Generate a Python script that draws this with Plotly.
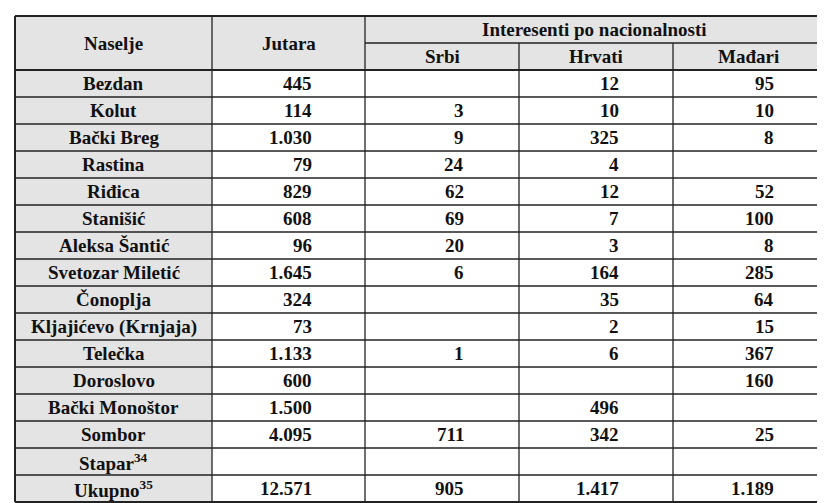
import plotly.graph_objects as go

naselja = ["Bezdan", "Kolut", "Bački Breg", "Rastina", "Riđica", "Stanišić", "Aleksa Šantić",
           "Svetozar Miletić", "Čonoplja", "Kljajićevo (Krnjaja)", "Telečka", "Doroslovo",
           "Bački Monoštor", "Sombor", "Stapar<sup>34</sup>", "Ukupno<sup>35</sup>"]
jutara = ["445", "114", "1.030", "79", "829", "608", "96", "1.645", "324", "73", "1.133", "600",
          "1.500", "4.095", "", "12.571"]
srbi = ["", "3", "9", "24", "62", "69", "20", "6", "", "", "1", "", "", "711", "", "905"]
hrvati = ["12", "10", "325", "4", "12", "7", "3", "164", "35", "2", "6", "", "496", "342", "", "1.417"]
madjari = ["95", "10", "8", "", "52", "100", "8", "285", "64", "15", "367", "160", "", "25", "", "1.189"]

header_top = "Interesenti po nacionalnosti"
headers = ["Naselje", "Jutara", "Srbi", "Hrvati", "Mađari"]

X = [7, 204, 357, 511, 665, 815]
Y0, YH1, YH = 8, 35, 62
RH = 27.0
GRAY = "#e4e4e4"
LINE = "#222"
FONT = dict(family="Liberation Serif", size=19, color="#111")

shapes, ann = [], []
n = len(naselja)
ybot = YH + n * RH
shapes.append(dict(type="rect", x0=X[0], x1=X[5], y0=Y0, y1=YH, fillcolor=GRAY, line_width=0, layer="below"))
shapes.append(dict(type="rect", x0=X[0], x1=X[1], y0=YH, y1=ybot, fillcolor=GRAY, line_width=0, layer="below"))
def ln(x0, y0, x1, y1, w=1.3):
    shapes.append(dict(type="line", x0=x0, y0=y0, x1=x1, y1=y1, line=dict(color=LINE, width=w)))
ln(X[0], Y0, X[5], Y0, 2); ln(X[0], ybot, X[5], ybot, 2)
ln(X[0], Y0, X[0], ybot, 2); ln(X[5], Y0, X[5], ybot, 2)
ln(X[2], YH1, X[5], YH1)
for i in range(n):
    ln(X[0], YH + i * RH, X[5], YH + i * RH, 2 if i == 0 else 1.3)
ln(X[1], Y0, X[1], ybot); ln(X[2], Y0, X[2], ybot)
ln(X[3], YH1, X[3], ybot); ln(X[4], YH1, X[4], ybot)

def txt(x, y, t, anchor="center"):
    ann.append(dict(x=x, y=y, text="<b>" + t + "</b>", showarrow=False, xanchor=anchor, yanchor="middle",
                    font=FONT, xref="x", yref="y"))

txt((X[0] + X[1]) / 2, (Y0 + YH) / 2, headers[0])
txt((X[1] + X[2]) / 2, (Y0 + YH) / 2, headers[1])
txt((X[2] + X[5]) / 2, (Y0 + YH1) / 2, header_top)
for k in range(3):
    txt((X[2 + k] + X[3 + k]) / 2, (YH1 + YH) / 2, headers[2 + k])

right = [306, 458, 613, 768]
for i in range(n):
    yc = YH + (i + 0.5) * RH
    txt((X[0] + X[1]) / 2, yc, naselja[i])
    for c, col in enumerate([jutara, srbi, hrvati, madjari]):
        if col[i]:
            txt(right[c], yc, col[i], "right")

fig = go.Figure()
fig.update_layout(width=825, height=503, margin=dict(l=0, r=0, t=0, b=0),
                  plot_bgcolor="white", paper_bgcolor="white", shapes=shapes, annotations=ann,
                  xaxis=dict(range=[0, 825], visible=False, fixedrange=True),
                  yaxis=dict(range=[503, 0], visible=False, fixedrange=True))
fig.write_html("out.html")
